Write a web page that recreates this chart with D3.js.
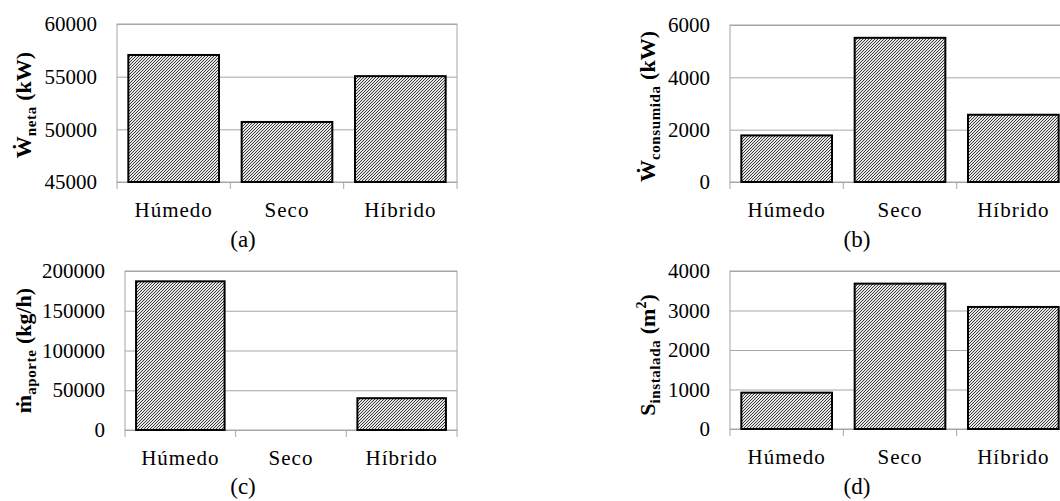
<!DOCTYPE html>
<html>
<head>
<meta charset="utf-8">
<script src="https://cdn.jsdelivr.net/npm/d3@7"></script>
<style>
    body { margin: 0; background: #fff; }
    svg text { font-family: "Liberation Serif", "Times New Roman", serif !important; }
</style>
</head>
<body>
<div class="chart"></div>
<script>
// Data
const categories = ["Húmedo", "Seco", "Híbrido"]

const wNeta = [57060, 50700, 55050]
const wConsumida = [1780, 5510, 2570]
const mAporte = [187000, 0, 40000]
const sInstalada = [920, 3680, 3090]

const netaTicks = [45000, 50000, 55000, 60000]
const consumidaTicks = [0, 2000, 4000, 6000]
const aporteTicks = [0, 50000, 100000, 150000, 200000]
const instaladaTicks = [0, 1000, 2000, 3000, 4000]

const svg = d3.select(".chart")
    .append('svg')
    .attr('width', 1060)
    .attr('height', 501)
    .style('display', 'block')

// hatch fill, fine upward diagonal (pixel tile 3x3)
const defs = svg.append('defs')
const pattern = defs.append('pattern')
    .attr('id', 'hatch')
    .attr('patternUnits', 'userSpaceOnUse')
    .attr('width', 3)
    .attr('height', 3)
pattern.append('rect')
    .attr('width', 3).attr('height', 3)
    .attr('fill', '#e6e6e6')
pattern.selectAll('.px')
    .data([[2, 0], [1, 1], [0, 2]])
    .join('rect')
    .attr('x', d => d[0]).attr('y', d => d[1])
    .attr('width', 1).attr('height', 1)
    .attr('fill', '#3a3a3a')
    .attr('shape-rendering', 'crispEdges')

function drawPanel(p) {
    const width = p.right - p.left
    const height = p.bottom - p.top

    const g = svg.append('g')
        .attr('transform', `translate(${p.left},${p.top})`)

    const xScale = d3.scaleBand()
        .domain(categories)
        .range([0, width])
        .paddingInner(0.2)
        .paddingOuter(0.1)

    const yScale = d3.scaleLinear()
        .domain(p.domain)
        .range([height, 0])

    // gridlines + tick labels
    const yAxis = d3.axisLeft(yScale)
        .tickValues(p.ticks)
        .tickFormat(d => d)
        .tickSize(-width)
        .tickPadding(20)

    const yAxisGroup = g.append('g').call(yAxis)
    yAxisGroup.select('.domain').remove()
    yAxisGroup.selectAll('line').attr('stroke', '#a6a6a6')
    yAxisGroup.selectAll('text')
        .attr('font-size', '21px')
        .attr('fill', '#000')

    // plot box
    g.append('rect')
        .attr('width', width)
        .attr('height', height)
        .attr('fill', 'none')
        .attr('stroke', '#a6a6a6')

    // category ticks below the axis
    const bounds = categories.map(c => xScale(c) - (xScale.step() - xScale.bandwidth()) / 2)
    bounds.push(width)
    g.selectAll('.cat-tick')
        .data(bounds)
        .join('line')
        .attr('x1', d => d).attr('x2', d => d)
        .attr('y1', height).attr('y2', height + 7)
        .attr('stroke', '#a6a6a6')

    // category labels
    const xAxis = d3.axisBottom(xScale).tickSize(0).tickPadding(20)
    const xAxisGroup = g.append('g')
        .attr('transform', `translate(0, ${height})`)
        .call(xAxis)
    xAxisGroup.select('.domain').remove()
    xAxisGroup.selectAll('text')
        .attr('font-size', '21px')
        .attr('letter-spacing', '1px')
        .attr('fill', '#000')

    // bars
    const lo = p.domain[0]
    g.selectAll('.bar')
        .data(p.values)
        .join('rect')
        .attr('class', 'bar')
        .attr('x', (d, i) => xScale(categories[i]))
        .attr('y', d => yScale(d))
        .attr('width', xScale.bandwidth())
        .attr('height', d => yScale(lo) - yScale(d))
        .attr('fill', 'url(#hatch)')
        .attr('stroke', '#000')
        .attr('stroke-width', 2)
        .attr('display', d => d > lo ? null : 'none')

    // y label
    const label = svg.append('text')
        .attr('transform', `translate(${p.labelX},${p.top + height / 2 + p.labelShift}) rotate(-90)`)
        .attr('text-anchor', 'middle')
        .attr('font-weight', 'bold')
        .attr('font-size', '22px')
        .attr('fill', '#000')
    label.append('tspan').text(p.main)
    label.append('tspan')
        .attr('font-size', '15px')
        .attr('letter-spacing', '0.6px')
        .attr('dy', 5)
        .text(p.sub)
    if (p.unitSup) {
        label.append('tspan').attr('dy', -5).text(' (' + p.unit)
        label.append('tspan').attr('font-size', '14px').attr('dy', -9).text(p.unitSup)
        label.append('tspan').attr('dy', 9).text(')')
    } else {
        label.append('tspan').attr('dy', -5).text(' (' + p.unit + ')')
    }

    // panel letter
    svg.append('text')
        .attr('x', p.letterX)
        .attr('y', p.letterY)
        .attr('text-anchor', 'middle')
        .attr('font-size', '23px')
        .attr('fill', '#000')
        .text(p.letter)
}

drawPanel({
    left: 117, right: 457, top: 24, bottom: 182,
    domain: [45000, 60000], ticks: netaTicks, values: wNeta,
    main: 'Ẇ', sub: 'neta', unit: 'kW', labelX: 31, labelShift: 2,
    letter: '(a)', letterX: 243, letterY: 247
})

drawPanel({
    left: 730, right: 1070, top: 25, bottom: 182,
    domain: [0, 6000], ticks: consumidaTicks, values: wConsumida,
    main: 'Ẇ', sub: 'consumida', unit: 'kW', labelX: 655, labelShift: 3,
    letter: '(b)', letterX: 857, letterY: 247
})

drawPanel({
    left: 125, right: 457, top: 271, bottom: 430,
    domain: [0, 200000], ticks: aporteTicks, values: mAporte,
    main: 'ṁ', sub: 'aporte', unit: 'kg/h', labelX: 31, labelShift: 0,
    letter: '(c)', letterX: 243, letterY: 494
})

drawPanel({
    left: 730, right: 1070, top: 271, bottom: 429,
    domain: [0, 4000], ticks: instaladaTicks, values: sInstalada,
    main: 'S', sub: 'instalada', unit: 'm', unitSup: '2', labelX: 655, labelShift: 5,
    letter: '(d)', letterX: 857, letterY: 494
})
</script>
</body>
</html>
